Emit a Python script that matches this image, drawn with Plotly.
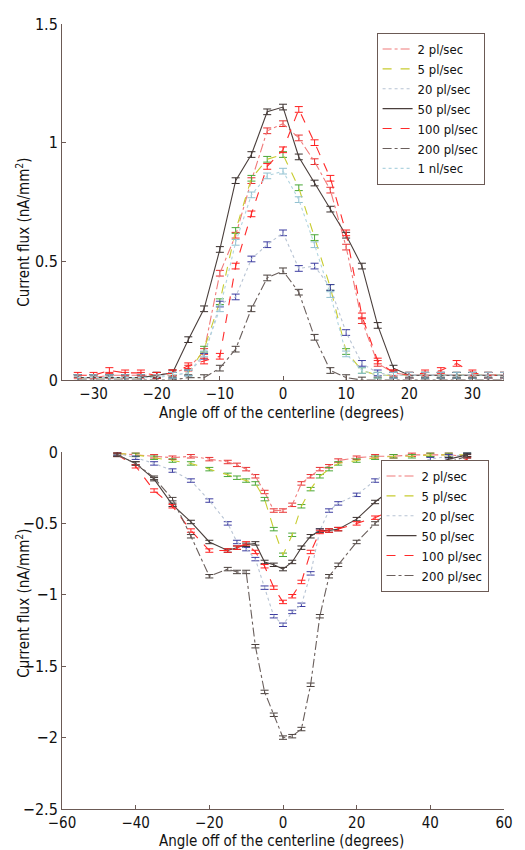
import plotly.graph_objects as go

# ---------------- data ----------------
series_names_top = ["2 pl/sec", "5 pl/sec", "20 pl/sec", "50 pl/sec", "100 pl/sec", "200 pl/sec", "1 nl/sec"]
series_names_bottom = ["2 pl/sec", "5 pl/sec", "20 pl/sec", "50 pl/sec", "100 pl/sec", "200 pl/sec"]

top_angle = [-32.5, -30, -27.5, -25, -22.5, -20, -17.5, -15, -12.5, -10, -7.5, -5, -2.5, 0,
             2.5, 5, 7.5, 10, 12.5, 15, 17.5, 20, 22.5, 25, 27.5, 30, 32.5, 35]

top_2pl = [0.01, 0.01, 0.02, 0.02, 0.02, 0.02, 0.03, 0.05, 0.12, 0.45, 0.61, 0.84, 1.05, 1.08,
           1.02, 0.92, 0.80, 0.56, 0.25, 0.07, 0.03, 0.02, 0.02, 0.02, 0.02, 0.02, 0.02, 0.02]
top_5pl = [0.01, 0.01, 0.01, 0.01, 0.01, 0.02, 0.02, 0.03, 0.13, 0.33, 0.63, 0.85, 0.93, 0.95,
           0.81, 0.60, 0.39, 0.12, 0.04, 0.02, 0.02, 0.02, 0.02, 0.02, 0.02, 0.02, 0.02, 0.02]
top_20pl = [0.01, 0.01, 0.01, 0.01, 0.01, 0.02, 0.02, 0.03, 0.10, 0.32, 0.35, 0.51, 0.57, 0.62,
            0.47, 0.48, 0.39, 0.20, 0.07, 0.03, 0.02, 0.02, 0.02, 0.02, 0.02, 0.02, 0.02, 0.02]
top_50pl = [0.01, 0.01, 0.01, 0.01, 0.01, 0.02, 0.03, 0.17, 0.30, 0.55, 0.84, 0.95, 1.13, 1.15,
            0.94, 0.83, 0.72, 0.61, 0.48, 0.23, 0.05, 0.02, 0.02, 0.02, 0.02, 0.02, 0.02, 0.02]
top_100pl = [0.02, 0.02, 0.04, 0.03, 0.03, 0.02, 0.03, 0.06, 0.08, 0.10, 0.48, 0.70, 0.90, 0.97,
             1.14, 1.00, 0.85, 0.62, 0.27, 0.08, 0.03, 0.02, 0.03, 0.04, 0.07, 0.03, 0.02, 0.02]
top_200pl = [0.00, 0.00, 0.00, 0.00, 0.00, 0.00, 0.00, 0.01, 0.01, 0.05, 0.13, 0.30, 0.43, 0.46,
             0.37, 0.18, 0.04, 0.01, 0.00, 0.00, 0.00, 0.00, 0.00, 0.00, 0.00, 0.00, 0.00, 0.00]
top_1nl = [0.01, 0.01, 0.01, 0.01, 0.01, 0.01, 0.02, 0.03, 0.11, 0.30, 0.58, 0.78, 0.86, 0.88,
           0.76, 0.57, 0.36, 0.11, 0.04, 0.02, 0.02, 0.02, 0.02, 0.02, 0.02, 0.02, 0.02, 0.02]

bottom_angle = [-45, -40, -35, -30, -25, -20, -15, -12.5, -10, -7.5, -5, -2.5, 0, 2.5, 5, 7.5,
                10, 12.5, 15, 20, 25, 30, 35, 40, 45, 50]

bot_2pl = [-0.01, -0.02, -0.03, -0.04, -0.03, -0.05, -0.07, -0.09, -0.12, -0.17, -0.28, -0.41, -0.41,
           -0.37, -0.22, -0.17, -0.12, -0.10, -0.06, -0.04, -0.03, -0.03, -0.02, -0.02, -0.02, -0.03]
bot_5pl = [-0.01, -0.02, -0.04, -0.06, -0.08, -0.12, -0.16, -0.18, -0.20, -0.22, -0.33, -0.54, -0.72,
           -0.58, -0.38, -0.26, -0.17, -0.12, -0.08, -0.06, -0.04, -0.03, -0.03, -0.02, -0.02, -0.02]
bot_20pl = [-0.01, -0.04, -0.08, -0.13, -0.20, -0.34, -0.50, -0.63, -0.68, -0.75, -0.95, -1.15, -1.21,
            -1.12, -1.07, -0.85, -0.55, -0.41, -0.36, -0.30, -0.20, -0.12, -0.08, -0.05, -0.03, -0.02]
bot_50pl = [-0.02, -0.08, -0.19, -0.37, -0.49, -0.63, -0.69, -0.67, -0.65, -0.64, -0.77, -0.79, -0.82,
            -0.77, -0.67, -0.59, -0.55, -0.55, -0.54, -0.47, -0.35, -0.25, -0.17, -0.10, -0.05, -0.02]
bot_100pl = [-0.02, -0.10, -0.27, -0.38, -0.55, -0.69, -0.69, -0.67, -0.64, -0.70, -0.80, -0.95, -1.05,
             -1.01, -0.91, -0.70, -0.56, -0.55, -0.54, -0.50, -0.46, -0.40, -0.30, -0.20, -0.10, -0.05]
bot_200pl = [-0.02, -0.08, -0.18, -0.33, -0.59, -0.87, -0.82, -0.84, -0.84, -1.36, -1.68, -1.84, -2.00,
             -1.99, -1.94, -1.63, -1.15, -0.87, -0.79, -0.63, -0.50, -0.38, -0.25, -0.15, -0.07, -0.03]

top_x_ticks = [-30, -20, -10, 0, 10, 20, 30]
top_y_ticks = [0, 0.5, 1, 1.5]
bottom_x_ticks = [-60, -40, -20, 0, 20, 40, 60]
bottom_y_ticks = [-2.5, -2, -1.5, -1, -0.5, 0]

# ---------------- styles ----------------
FONT = "Liberation Sans Narrow, Arial Narrow, DejaVu Sans Condensed, Liberation Sans, Arial, sans-serif"
AXIS_COLOR = "#6b5a55"
styles = {
    "2 pl/sec":   dict(color="#f07a7a", dash="dashdot", ecolor="#e83030"),
    "5 pl/sec":   dict(color="#c8cc30", dash="dash", ecolor="#4aa838"),
    "20 pl/sec":  dict(color="#b8c4d4", dash="dot", ecolor="#3c3ca0"),
    "50 pl/sec":  dict(color="#4a3f3c", dash="solid", ecolor="#3a302e"),
    "100 pl/sec": dict(color="#ff2a2a", dash="dash", ecolor="#ff2020"),
    "200 pl/sec": dict(color="#6a5f5c", dash="dashdot", ecolor="#4a403d"),
    "1 nl/sec":   dict(color="#b0d4e0", dash="dot", ecolor="#90c0d0"),
}

top_vals = [top_2pl, top_5pl, top_20pl, top_50pl, top_100pl, top_200pl, top_1nl]
bot_vals = [bot_2pl, bot_5pl, bot_20pl, bot_50pl, bot_100pl, bot_200pl]

fig = go.Figure()
for name, ys in zip(series_names_top, top_vals):
    s = styles[name]
    fig.add_trace(go.Scatter(
        x=top_angle, y=ys, mode="lines", name=name,
        line=dict(color=s["color"], dash=s["dash"], width=1.1),
        error_y=dict(type="constant", value=0.012, color=s["ecolor"], thickness=1, width=4),
        xaxis="x", yaxis="y", legend="legend"))

for name, ys in zip(series_names_bottom, bot_vals):
    s = styles[name]
    fig.add_trace(go.Scatter(
        x=bottom_angle, y=ys, mode="lines", name=name,
        line=dict(color=s["color"], dash=s["dash"], width=1.1),
        error_y=dict(type="constant", value=0.012, color=s["ecolor"], thickness=1, width=4),
        xaxis="x2", yaxis="y2", legend="legend2"))

# pixel -> paper helpers (plot area 62..513 x, 24..809 y)
L, R, T, B = 62, 12, 24, 41
W, H = 525, 850
PW, PH = W - L - R, H - T - B
def px(x): return (x - L) / PW
def py(y): return (H - B - y) / PH

axis_common = dict(showline=True, linecolor=AXIS_COLOR, linewidth=1, ticks="inside",
                   ticklen=4, tickcolor=AXIS_COLOR, showgrid=False, zeroline=False, mirror=False)
tick16 = dict(family=FONT, size=16, color="#111")
tick15 = dict(family=FONT, size=15, color="#111")

title_font = dict(family=FONT, size=15, color="#111")

fig.update_layout(
    width=W, height=H,
    margin=dict(l=L, r=R, t=T, b=B),
    paper_bgcolor="white", plot_bgcolor="white",
    font=dict(family=FONT, size=15, color="#111"),
    xaxis=dict(domain=[0, 1], anchor="y", range=[-35, 35], tickvals=top_x_ticks, tickfont=tick15, **axis_common),
    yaxis=dict(domain=[py(380), 1], anchor="x", range=[0, 1.5], tickvals=top_y_ticks, tickfont=tick16, **axis_common),
    xaxis2=dict(domain=[0, 1], anchor="y2", range=[-60, 60], tickvals=bottom_x_ticks, tickfont=tick15, **axis_common),
    yaxis2=dict(domain=[0, py(452)], anchor="x2", range=[-2.5, 0], tickvals=bottom_y_ticks, tickfont=tick16, **axis_common),
    legend=dict(x=px(383), y=py(33), xanchor="left", yanchor="top", bgcolor="white",
                bordercolor=AXIS_COLOR, borderwidth=1, font=dict(family=FONT, size=13, color="#111"),
                tracegroupgap=0),
    legend2=dict(x=px(387), y=py(460), xanchor="left", yanchor="top", bgcolor="white",
                 bordercolor=AXIS_COLOR, borderwidth=1, font=dict(family=FONT, size=13, color="#111"),
                 tracegroupgap=0),
    showlegend=True,
    annotations=[
        dict(text="Angle off of the centerline (degrees)", x=px(286), y=py(413), xref="paper", yref="paper",
             xanchor="center", yanchor="middle", showarrow=False, font=title_font),
        dict(text="Angle off of the centerline (degrees)", x=px(286), y=py(841), xref="paper", yref="paper",
             xanchor="center", yanchor="middle", showarrow=False, font=title_font),
        dict(text="Current flux (nA/mm<sup>2</sup>)", x=px(22), y=py(232), xref="paper", yref="paper",
             xanchor="center", yanchor="middle", textangle=-90, showarrow=False, font=title_font),
        dict(text="Current flux (nA/mm<sup>2</sup>)", x=px(22), y=py(603), xref="paper", yref="paper",
             xanchor="center", yanchor="middle", textangle=-90, showarrow=False, font=title_font),
    ],
)

fig.write_html("out.html", config={"displayModeBar": False},
               post_script="document.body.style.margin='0px';document.body.style.overflow='hidden';")
